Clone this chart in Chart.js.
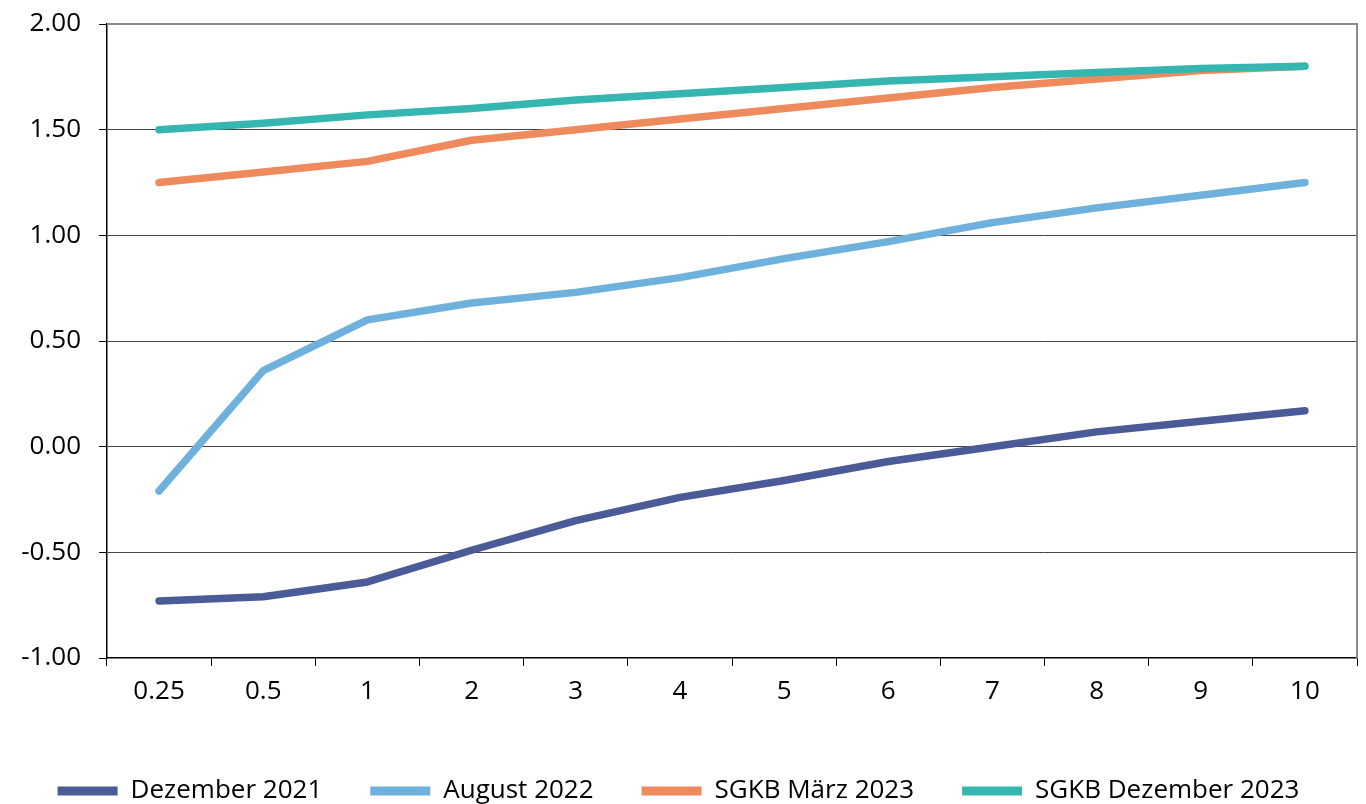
<!DOCTYPE html>
<html>
<head>
<meta charset="utf-8">
<script src="https://cdn.jsdelivr.net/npm/chart.js@4"></script>
<style>
  html, body { margin: 0; padding: 0; background: #fff; }
  #wrap { width: 1366px; height: 804px; }
</style>
</head>
<body>
<div id="wrap"><canvas id="chart_curve"></canvas></div>
<script>
const maturities = ['0.25', '0.5', '1', '2', '3', '4', '5', '6', '7', '8', '9', '10'];

const dez2021 = [-0.73, -0.71, -0.64, -0.49, -0.35, -0.24, -0.16, -0.07, 0.0, 0.07, 0.12, 0.17];
const aug2022 = [-0.21, 0.36, 0.60, 0.68, 0.73, 0.80, 0.89, 0.97, 1.06, 1.13, 1.19, 1.25];
const sgkbMar2023 = [1.25, 1.30, 1.35, 1.45, 1.50, 1.55, 1.60, 1.65, 1.70, 1.74, 1.78, 1.80];
const sgkbDez2023 = [1.50, 1.53, 1.57, 1.60, 1.64, 1.67, 1.70, 1.73, 1.75, 1.77, 1.79, 1.80];

const font = "'Open Sans', 'Noto Sans', sans-serif";

function series(label, data, color, order) {
    return {
        label: label,
        data: data,
        borderColor: color,
        backgroundColor: color,
        borderWidth: 7.5,
        borderCapStyle: 'round',
        borderJoinStyle: 'round',
        pointRadius: 0,
        tension: 0,
        order: order
    };
}

// grey frame on top and right of the plot
const frame = {
    id: 'frame',
    afterDraw(chart) {
        const { ctx, chartArea: a } = chart;
        ctx.save();
        ctx.strokeStyle = '#8a8a8a';
        ctx.lineWidth = 2;
        ctx.beginPath();
        ctx.moveTo(a.left, a.top);
        ctx.lineTo(a.right, a.top);
        ctx.lineTo(a.right, a.bottom);
        ctx.stroke();
        ctx.restore();
    }
};

new Chart(
    document.getElementById('chart_curve'),
    {
        type: 'line',
        data: {
            labels: maturities,
            datasets: [
                series('Dezember 2021', dez2021, '#4a5b97', 4),
                series('August 2022', aug2022, '#6fb1dd', 3),
                series('SGKB März 2023', sgkbMar2023, '#ef8a5d', 2),
                series('SGKB Dezember 2023', sgkbDez2023, '#35b6b0', 1)
            ]
        },
        options: {
            responsive: true,
            maintainAspectRatio: false,
            animation: false,
            layout: { padding: { top: 24, right: 9, left: 0, bottom: -10 } },
            plugins: {
                tooltip: { enabled: false },
                legend: {
                    position: 'bottom',
                    labels: {
                        color: '#000',
                        font: { family: font, size: 26 },
                        boxWidth: 60,
                        boxHeight: 9,
                        useBorderRadius: true,
                        borderRadius: 4.5,
                        padding: 48,
                        sort: (a, b) => a.datasetIndex - b.datasetIndex,
                        generateLabels: (chart) => chart.data.datasets.map((ds, i) => ({
                            text: ds.label,
                            fillStyle: ds.borderColor,
                            strokeStyle: ds.borderColor,
                            lineWidth: 0,
                            fontColor: '#000',
                            datasetIndex: i
                        }))
                    }
                }
            },
            scales: {
                x: {
                    offset: true,
                    grid: {
                        offset: true,
                        drawOnChartArea: false,
                        tickLength: 8,
                        tickColor: '#000',
                        tickWidth: 1
                    },
                    border: { color: '#000', width: 1.5 },
                    ticks: {
                        color: '#000',
                        font: { family: font, size: 26 },
                        padding: 10,
                        maxRotation: 0
                    },
                    afterFit: (scale) => { scale.height = 72; }
                },
                y: {
                    min: -1,
                    max: 2,
                    grid: {
                        color: (c) => (c.tick.value === 2 || c.tick.value === -1) ? 'rgba(0,0,0,0)' : '#444',
                        borderDash: [1, 1],
                        lineWidth: 1,
                        tickLength: 8,
                        tickColor: '#000',
                        tickBorderDash: [],
                        tickWidth: 1
                    },
                    border: { color: '#000', width: 1.5 },
                    ticks: {
                        stepSize: 0.5,
                        color: '#000',
                        font: { family: font, size: 26 },
                        padding: 18,
                        callback: (v) => Number(v).toFixed(2)
                    },
                    afterFit: (scale) => {
                        scale.width = 107;
                        scale.paddingTop = 0;
                        scale.paddingBottom = 0;
                    }
                }
            }
        },
        plugins: [frame]
    }
);
</script>
</body>
</html>
